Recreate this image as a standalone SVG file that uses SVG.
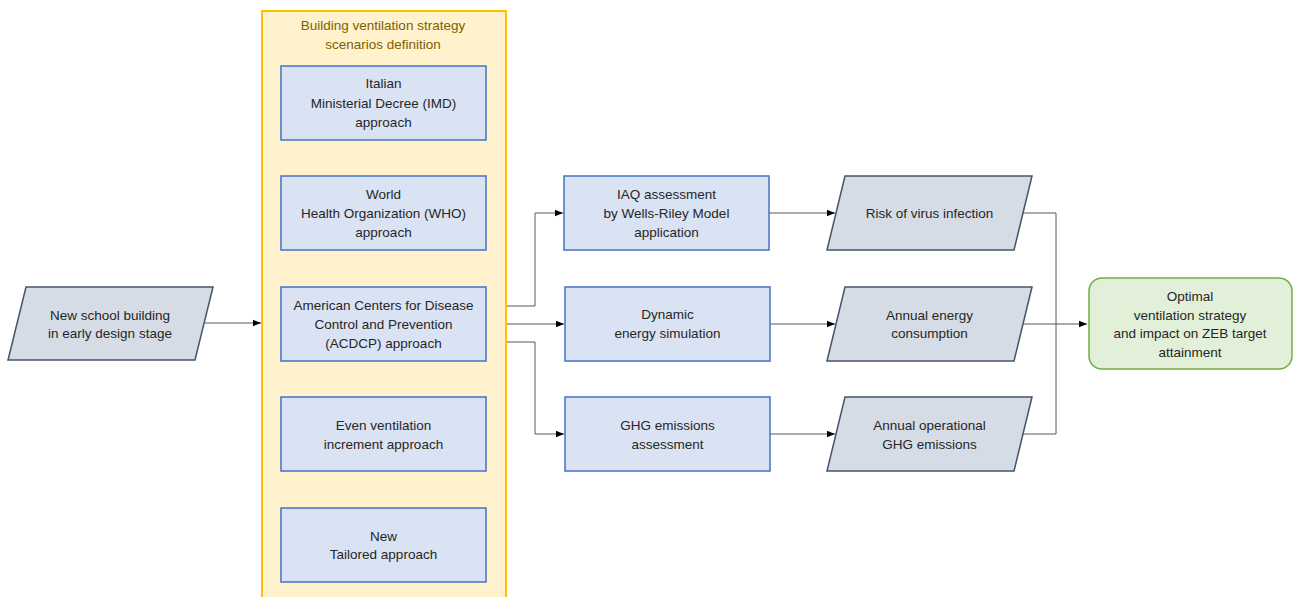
<svg xmlns="http://www.w3.org/2000/svg" width="1293" height="597" viewBox="0 0 1293 597">
<style>
  .t { font-family: "Liberation Sans", Arial, sans-serif; font-size: 13.5px; fill: #262626; text-anchor: middle; }
  .title { fill: #7f6000; }
  .box { fill: #dae3f3; stroke: #4472c4; stroke-width: 1.5; }
  .io { fill: #d6dce5; stroke: #44546a; stroke-width: 1.5; }
  .out { fill: #e2f0d9; stroke: #70ad47; stroke-width: 1.5; }
  .c { fill: none; stroke: #595959; stroke-width: 1; }
</style>
<defs>
  <marker id="ah" viewBox="0 0 10 10" refX="10" refY="5" markerWidth="8" markerHeight="8" markerUnits="userSpaceOnUse" orient="auto">
    <path d="M0,1 L10,5 L0,9 z" fill="#000"/>
  </marker>
</defs>
<rect width="1293" height="597" fill="#fff"/>

<g id="container">
  <rect x="262" y="11" width="244" height="590" fill="#fff2cc"/>
  <path d="M262,598 L262,11 L506,11 L506,598" fill="none" stroke="#ffc000" stroke-width="2"/>
  <text class="t title" x="383" y="30">Building ventilation strategy</text>
  <text class="t title" x="383" y="49">scenarios definition</text>
</g>

<g id="connectors">
  <path class="c" d="M205,323 L261,323" marker-end="url(#ah)"/>
  <path class="c" d="M507,306 L535,306 L535,213 L563,213" marker-end="url(#ah)"/>
  <path class="c" d="M507,324 L564,324" marker-end="url(#ah)"/>
  <path class="c" d="M507,342 L535,342 L535,434 L564,434" marker-end="url(#ah)"/>
  <path class="c" d="M768,213 L835,213" marker-end="url(#ah)"/>
  <path class="c" d="M770,324 L835,324" marker-end="url(#ah)"/>
  <path class="c" d="M770,434 L835,434" marker-end="url(#ah)"/>
  <path class="c" d="M1023,213 L1056,213 L1056,434 L1023,434"/>
  <path class="c" d="M1023,324 L1087,324" marker-end="url(#ah)"/>
</g>

<g id="input">
  <polygon class="io" points="26,287 213,287 195,360 8,360"/>
  <text class="t" x="110" y="320">New school building</text>
  <text class="t" x="110" y="338">in early design stage</text>
</g>

<g id="imd">
  <rect class="box" x="281" y="66" width="205" height="74"/>
  <text class="t" x="383.5" y="88">Italian</text>
  <text class="t" x="383.5" y="108">Ministerial Decree (IMD)</text>
  <text class="t" x="383.5" y="127">approach</text>
</g>
<g id="who">
  <rect class="box" x="281" y="176" width="205" height="74"/>
  <text class="t" x="383.5" y="199">World</text>
  <text class="t" x="383.5" y="218">Health Organization (WHO)</text>
  <text class="t" x="383.5" y="237">approach</text>
</g>
<g id="acdcp">
  <rect class="box" x="281" y="287" width="205" height="74"/>
  <text class="t" x="383.5" y="310">American Centers for Disease</text>
  <text class="t" x="383.5" y="329">Control and Prevention</text>
  <text class="t" x="383.5" y="348">(ACDCP) approach</text>
</g>
<g id="even">
  <rect class="box" x="281" y="397" width="205" height="74"/>
  <text class="t" x="383.5" y="430">Even ventilation</text>
  <text class="t" x="383.5" y="449">increment approach</text>
</g>
<g id="tailored">
  <rect class="box" x="281" y="508" width="205" height="74"/>
  <text class="t" x="383.5" y="541">New</text>
  <text class="t" x="383.5" y="559">Tailored approach</text>
</g>

<g id="iaq">
  <rect class="box" x="564" y="176" width="205" height="74"/>
  <text class="t" x="666.5" y="199">IAQ assessment</text>
  <text class="t" x="666.5" y="218">by Wells-Riley Model</text>
  <text class="t" x="666.5" y="237">application</text>
</g>
<g id="dynamic">
  <rect class="box" x="565" y="287" width="205" height="74"/>
  <text class="t" x="667.5" y="319">Dynamic</text>
  <text class="t" x="667.5" y="338">energy simulation</text>
</g>
<g id="ghg">
  <rect class="box" x="565" y="397" width="205" height="74"/>
  <text class="t" x="667.5" y="430">GHG emissions</text>
  <text class="t" x="667.5" y="449">assessment</text>
</g>

<g id="risk">
  <polygon class="io" points="845,176 1032,176 1014,250 827,250"/>
  <text class="t" x="929.5" y="218">Risk of virus infection</text>
</g>
<g id="energy">
  <polygon class="io" points="845,287 1032,287 1014,361 827,361"/>
  <text class="t" x="929.5" y="320">Annual energy</text>
  <text class="t" x="929.5" y="338">consumption</text>
</g>
<g id="emissions">
  <polygon class="io" points="845,397 1032,397 1014,471 827,471"/>
  <text class="t" x="929.5" y="430">Annual operational</text>
  <text class="t" x="929.5" y="449">GHG emissions</text>
</g>

<g id="optimal">
  <rect class="out" x="1089" y="278" width="203" height="91" rx="13"/>
  <text class="t" x="1190" y="301">Optimal</text>
  <text class="t" x="1190" y="320">ventilation strategy</text>
  <text class="t" x="1190" y="338">and impact on ZEB target</text>
  <text class="t" x="1190" y="357">attainment</text>
</g>
</svg>
